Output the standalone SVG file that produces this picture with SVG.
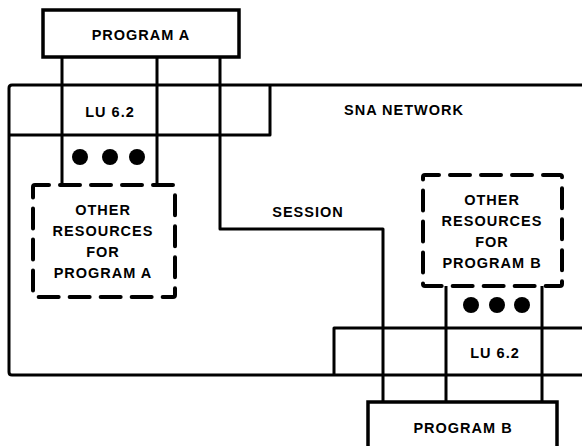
<svg xmlns="http://www.w3.org/2000/svg" width="582" height="446" viewBox="0 0 582 446">
<style>
.ln{fill:none;stroke:#000;stroke-width:3;stroke-linejoin:round}
.box{fill:#fff;stroke:#000;stroke-width:3.5}
.dash{fill:#fff;stroke:#000;stroke-width:4;stroke-dasharray:20 11;stroke-linecap:round}
.t{font-family:"Liberation Sans",Arial,sans-serif;font-weight:bold;font-size:14.5px;letter-spacing:1px;text-anchor:middle;fill:#000}
</style>
<rect width="582" height="446" fill="#fff"/>
<g id="sna-network">
<path class="ln" d="M584 85 H12 Q9 85 9 88 V372 Q9 375 12 375 H584"/>
<text class="t" x="404" y="115">SNA NETWORK</text>
</g>
<g id="lu-a">
<path class="ln" d="M9 135 H270 V85"/>
<text class="t" x="110" y="117">LU 6.2</text>
</g>
<g id="lu-b">
<path class="ln" d="M584 328 H334 V375"/>
<text class="t" x="495" y="358">LU 6.2</text>
</g>
<g id="connectors">
<path class="ln" d="M62 57 V185 M157 57 V185"/>
<path class="ln" d="M220 57 V229 H383 V402"/>
<path class="ln" d="M446 286 V402 M542 286 V402"/>
<text class="t" x="308" y="217">SESSION</text>
</g>
<g id="program-a">
<rect class="box" x="43" y="10" width="196" height="47"/>
<text class="t" x="141" y="40">PROGRAM A</text>
</g>
<g id="dots-a">
<circle cx="80" cy="157" r="8"/>
<circle cx="110" cy="157" r="8"/>
<circle cx="137" cy="157" r="8"/>
</g>
<g id="resources-a">
<rect class="dash" x="33" y="185" width="142" height="112" rx="2" stroke-dashoffset="6"/>
<text class="t" x="103" y="215">OTHER</text>
<text class="t" x="103" y="236">RESOURCES</text>
<text class="t" x="103" y="257">FOR</text>
<text class="t" x="103" y="278">PROGRAM A</text>
</g>
<g id="resources-b">
<rect class="dash" x="423" y="175" width="139" height="111" rx="2" stroke-dashoffset="6"/>
<text class="t" x="492" y="205">OTHER</text>
<text class="t" x="492" y="226">RESOURCES</text>
<text class="t" x="492" y="247">FOR</text>
<text class="t" x="492" y="268">PROGRAM B</text>
</g>
<g id="dots-b">
<circle cx="471" cy="305" r="8"/>
<circle cx="497" cy="305" r="8"/>
<circle cx="522" cy="305" r="8"/>
</g>
<g id="program-b">
<rect class="box" x="368" y="402" width="189" height="60"/>
<text class="t" x="463" y="433">PROGRAM B</text>
</g>
</svg>
